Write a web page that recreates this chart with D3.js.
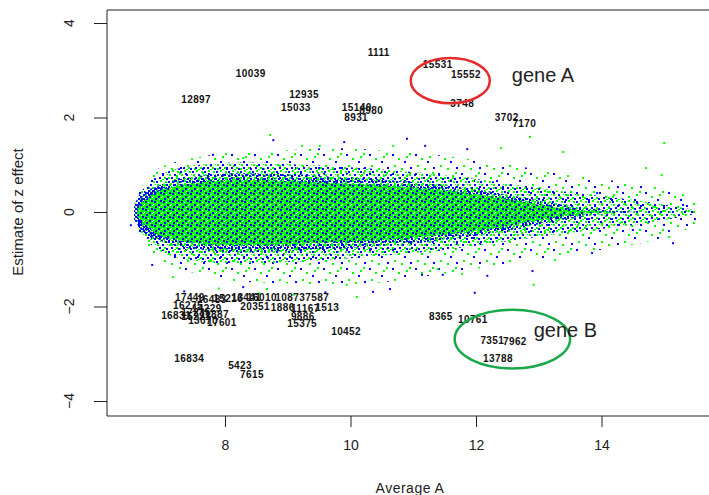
<!DOCTYPE html>
<html lang="en">
<head>
<meta charset="UTF-8">
<title>Estimate of z effect vs Average A</title>
<script src="https://cdn.jsdelivr.net/npm/d3@7"></script>
<style>
  body { margin: 0; background: #fff; }
  .axis-text { font-family: "Liberation Sans Narrow", "Arial Narrow", "Liberation Sans", sans-serif; fill: #222; }
  .gene-label { font-family: "Liberation Sans", Arial, sans-serif; font-weight: bold; font-size: 10px; letter-spacing: 0.4px; fill: #111; }
  .note { font-family: "Liberation Sans", Arial, sans-serif; font-size: 20px; fill: #222; }
</style>
</head>
<body>
<div id="chart"></div>
<script>
// ---- data ----
const xTicks = [8, 10, 12, 14];
const yTicks = [-4, -2, 0, 2, 4];

// bulk of the point cloud, summarised as density bands (x, upper, lower)
const cloudX  = [6.6, 6.75, 7.0, 7.5, 8.0, 8.5, 9.0, 9.5, 10.0, 10.5, 11.0, 11.5, 12.0, 12.5, 13.0, 13.5, 14.0, 14.5, 15.0, 15.5];
const outerHi = [0.35, 0.75, 1.0, 1.15, 1.25, 1.3, 1.3, 1.35, 1.35, 1.3, 1.25, 1.2, 1.1, 1.0, 0.9, 0.8, 0.7, 0.6, 0.5, 0.3];
const outerLo = [-0.35, -0.8, -1.1, -1.3, -1.45, -1.5, -1.5, -1.55, -1.55, -1.5, -1.4, -1.3, -1.2, -1.1, -1.0, -0.9, -0.8, -0.7, -0.55, -0.3];
const midHi   = [0.3, 0.6, 0.85, 1.0, 1.05, 1.05, 1.02, 0.98, 0.95, 0.9, 0.85, 0.78, 0.7, 0.6, 0.5, 0.42, 0.34, 0.26, 0.16, 0.04];
const midLo   = [-0.3, -0.62, -0.9, -1.05, -1.1, -1.1, -1.06, -1.02, -0.98, -0.93, -0.87, -0.8, -0.72, -0.62, -0.52, -0.44, -0.36, -0.28, -0.18, -0.04];
const haloHi  = [0.18, 0.42, 0.62, 0.76, 0.82, 0.82, 0.8, 0.76, 0.73, 0.69, 0.64, 0.57, 0.48, 0.37, 0.24, 0.12, 0.04, 0, 0, 0];
const haloLo  = [-0.18, -0.44, -0.66, -0.8, -0.85, -0.85, -0.83, -0.79, -0.76, -0.72, -0.67, -0.6, -0.5, -0.4, -0.26, -0.13, -0.04, 0, 0, 0];
const coreHi  = [0.1, 0.3, 0.5, 0.62, 0.68, 0.68, 0.66, 0.62, 0.6, 0.57, 0.52, 0.46, 0.38, 0.28, 0.15, 0.05, 0, 0, 0, 0];
const coreLo  = [-0.1, -0.32, -0.55, -0.66, -0.7, -0.7, -0.68, -0.65, -0.62, -0.6, -0.55, -0.48, -0.4, -0.3, -0.17, -0.06, 0, 0, 0, 0];

// blue end cap at low A
const capX  = [6.55, 6.65, 6.8, 7.0, 7.2, 7.4];
const capHi = [0.15, 0.4, 0.5, 0.55, 0.5, 0.3];
const capLo = [-0.15, -0.4, -0.55, -0.6, -0.55, -0.35];

// scattered points outside the bands
const blueX  = [8.77, 7.81, 6.50, 6.84, 8.29, 10.36, 11.19, 11.86, 15.49, 11.98, 10.63, 11.14, 11.47, 12.18, 13.85, 15.30, 15.14, 14.57, 13.93, 14.50, 15.14, 13.66, 7.35, 9.60, 10.9, 12.9, 9.9];
const blueY  = [1.52, 1.21, -0.28, -1.12, -1.59, -1.69, 1.40, 1.33, -0.15, -1.71, -1.63, -1.33, -1.33, -1.35, -0.87, 0.15, -0.66, 0.19, 0.40, -0.38, 0.00, -0.11, -1.68, -1.70, 1.55, -1.25, 1.48];
const greenX = [8.72, 9.23, 9.51, 8.29, 7.17, 8.67, 9.94, 10.68, 12.86, 13.39, 15.00, 12.92, 11.39, 11.78, 13.26, 15.08, 14.96, 14.71, 14.18, 13.61, 14.82, 13.45, 14.09, 14.30, 7.90, 8.55, 9.10, 12.4, 10.1];
const greenY = [1.63, 1.40, 1.40, 1.14, -1.38, -1.63, -1.54, 1.40, 1.59, 1.27, 1.46, -1.54, -1.21, -1.31, -1.02, -0.53, 0.78, 0.93, 0.32, -0.32, 0.11, 0.11, -0.02, -0.23, -1.62, -1.72, -1.75, 1.35, -1.8];

// labelled genes
const labelIds = ["1111", "15531", "15552", "10039", "12897", "12935", "15033", "15140", "8980", "8931", "3748", "3702", "7170",
  "17449", "16483", "15216", "13441", "16010", "10873", "7587", "16275", "14229", "17235", "16831", "15221", "11887", "13070", "17601",
  "20351", "1886", "11167", "1513", "9886", "15375", "10452", "16834", "5423", "7615", "8365", "10761", "7351", "7962", "13788"];
const labelX = [10.45, 11.39, 11.84, 8.41, 7.54, 9.26, 9.13, 10.10, 10.33, 10.09, 11.78, 12.49, 12.77,
  7.44, 7.79, 8.05, 8.34, 8.59, 9.04, 9.47, 7.41, 7.71, 7.54, 7.22, 7.54, 7.83, 7.65, 7.95,
  8.48, 8.92, 9.28, 9.63, 9.24, 9.23, 9.93, 7.43, 8.24, 8.43, 11.44, 11.95, 12.26, 12.62, 12.35];
const labelY = [3.37, 3.13, 2.90, 2.94, 2.39, 2.48, 2.22, 2.22, 2.14, 2.01, 2.29, 1.99, 1.88,
  -1.80, -1.86, -1.84, -1.82, -1.82, -1.80, -1.82, -1.97, -2.05, -2.12, -2.20, -2.22, -2.16, -2.29, -2.33,
  -2.01, -2.03, -2.05, -2.03, -2.22, -2.37, -2.52, -3.09, -3.24, -3.43, -2.22, -2.27, -2.73, -2.75, -3.09];

// hand-drawn annotations
const noteText = ["gene A", "gene B"];
const noteX = [12.57, 12.92];
const noteY = [2.90, -2.49];
const ringCx = [11.59, 12.58];
const ringCy = [2.78, -2.69];
const ringRx = [0.63, 0.92];
const ringRy = [0.48, 0.62];
const ringColor = ["#e62a2a", "#1aa84a"];

// ---- drawing ----
const W = 709, H = 495;
const svg = d3.select('#chart').append('svg').attr('width', W).attr('height', H);
svg.append('rect').attr('width', W).attr('height', H).attr('fill', '#fff');

const x = d3.scaleLinear().domain([8, 14]).range([225, 601.5]);
const y = d3.scaleLinear().domain([-4, 4]).range([401, 23]);
const box = { left: 107, right: 716, top: 10, bottom: 416 };

// dot patterns standing in for the dense scatter
const defs = svg.append('defs');
function makePattern(id, w, h, bg, dots) {
    const p = defs.append('pattern').attr('id', id).attr('patternUnits', 'userSpaceOnUse')
        .attr('width', w).attr('height', h);
    if (bg) p.append('rect').attr('width', w).attr('height', h).attr('fill', bg);
    dots.forEach(d => p.append('rect').attr('x', d[0]).attr('y', d[1]).attr('width', d[3] || 2).attr('height', d[3] || 2).attr('fill', d[2]));
}
const B = '#0000ff', G = '#00ff00', W0 = '#ffffff';
makePattern('sparse', 23, 19, null, [[1, 2, B], [13, 9, B], [7, 6, G], [18, 1, G], [3, 13, G], [19, 15, B], [10, 16, G], [15, 4, G]]);
makePattern('mid', 12, 10, null, [[0, 1, B], [6, 4, B], [3, 7, B], [10, 8, B], [4, 0, G], [8, 7, G], [1, 4, G], [9, 1, G], [6, 9, G], [11, 4, G, 1]]);
makePattern('halo', 7, 6, null, [[0, 0, B], [4, 1, B], [2, 3, G], [5, 4, B], [1, 5, G], [6, 2, G, 1], [3, 0, G, 1]]);
makePattern('core', 9, 8, G, [[1, 1, B], [5, 4, B], [7, 0, B], [2, 6, B], [4, 2, W0, 1], [8, 5, W0, 1], [0, 4, W0, 1], [6, 7, W0, 1]]);
makePattern('cap', 5, 4, null, [[0, 0, B], [3, 2, B], [2, 0, '#4040ff', 1], [0, 3, G, 1]]);

const clip = defs.append('clipPath').attr('id', 'plotClip');
clip.append('rect').attr('x', box.left).attr('y', box.top).attr('width', box.right - box.left).attr('height', box.bottom - box.top);
const plot = svg.append('g').attr('clip-path', 'url(#plotClip)');

function band(xs, hi, lo) { return xs.map((v, i) => ({ x: v, hi: hi[i], lo: lo[i] })); }
const area = d3.area().x(d => x(d.x)).y0(d => y(d.lo)).y1(d => y(d.hi)).curve(d3.curveBasis);

plot.append('path').datum(band(cloudX, outerHi, outerLo)).attr('d', area).attr('fill', 'url(#sparse)');
plot.append('path').datum(band(cloudX, midHi, midLo)).attr('d', area).attr('fill', 'url(#mid)');
plot.append('path').datum(band(cloudX, haloHi, haloLo)).attr('d', area).attr('fill', 'url(#halo)');
plot.append('path').datum(band(capX, capHi, capLo)).attr('d', area).attr('fill', 'url(#cap)');
plot.append('path').datum(band(cloudX, coreHi, coreLo)).attr('d', area).attr('fill', 'url(#core)');

plot.selectAll('.bdot').data(blueX.map((v, i) => [v, blueY[i]])).enter().append('rect')
    .attr('x', d => x(d[0]) - 1).attr('y', d => y(d[1]) - 1).attr('width', 2).attr('height', 2).attr('fill', B);
plot.selectAll('.gdot').data(greenX.map((v, i) => [v, greenY[i]])).enter().append('rect')
    .attr('x', d => x(d[0]) - 1).attr('y', d => y(d[1]) - 1).attr('width', 2).attr('height', 2).attr('fill', G);

plot.selectAll('.gene-label').data(labelIds.map((t, i) => ({ t, x: labelX[i], y: labelY[i] }))).enter().append('text')
    .attr('class', 'gene-label')
    .attr('x', d => x(d.x)).attr('y', d => y(d.y))
    .attr('text-anchor', 'middle').attr('dominant-baseline', 'central')
    .text(d => d.t);

// frame
svg.append('path')
    .attr('d', `M${box.right},${box.top}H${box.left}V${box.bottom}H${box.right}`)
    .attr('fill', 'none').attr('stroke', '#222').attr('stroke-width', 1);

// axes
const xAxis = svg.append('g').attr('transform', `translate(0,${box.bottom})`)
    .call(d3.axisBottom(x).tickValues(xTicks).tickSize(11).tickPadding(13).tickFormat(d3.format('d')));
xAxis.select('.domain').remove();
xAxis.selectAll('text').attr('class', 'axis-text').style('font-size', '14px').attr('fill', '#222');
xAxis.selectAll('line').attr('stroke', '#222');

const yAxis = svg.append('g').attr('transform', `translate(${box.left},0)`)
    .call(d3.axisLeft(y).tickValues(yTicks).tickSize(13).tickFormat(''));
yAxis.select('.domain').remove();
yAxis.selectAll('line').attr('stroke', '#222');
svg.selectAll('.ytick-label').data(yTicks).enter().append('text')
    .attr('class', 'axis-text').style('font-size', '14px')
    .attr('text-anchor', 'middle')
    .attr('transform', d => `translate(74,${y(d)}) rotate(-90)`)
    .text(d => d < 0 ? '\u2212' + Math.abs(d) : d);

svg.append('text').attr('class', 'axis-text').style('font-size', '14px')
    .attr('x', 410).attr('y', 493).attr('text-anchor', 'middle').attr('letter-spacing', '0.5px')
    .text('Average A');
svg.append('text').attr('class', 'axis-text').style('font-size', '15px')
    .attr('transform', `translate(23,${y(0)}) rotate(-90)`)
    .attr('text-anchor', 'middle')
    .text('Estimate of z effect');

// annotations
svg.selectAll('.ring').data(ringCx.map((v, i) => i)).enter().append('ellipse')
    .attr('cx', i => x(ringCx[i])).attr('cy', i => y(ringCy[i]))
    .attr('rx', i => x(ringCx[i] + ringRx[i]) - x(ringCx[i]))
    .attr('ry', i => y(ringCy[i] - ringRy[i]) - y(ringCy[i]))
    .attr('fill', 'none').attr('stroke', i => ringColor[i]).attr('stroke-width', 2.5);
svg.selectAll('.note').data(noteText.map((t, i) => ({ t, x: noteX[i], y: noteY[i] }))).enter().append('text')
    .attr('class', 'note')
    .attr('x', d => x(d.x)).attr('y', d => y(d.y)).attr('dominant-baseline', 'central')
    .text(d => d.t);
</script>
</body>
</html>
